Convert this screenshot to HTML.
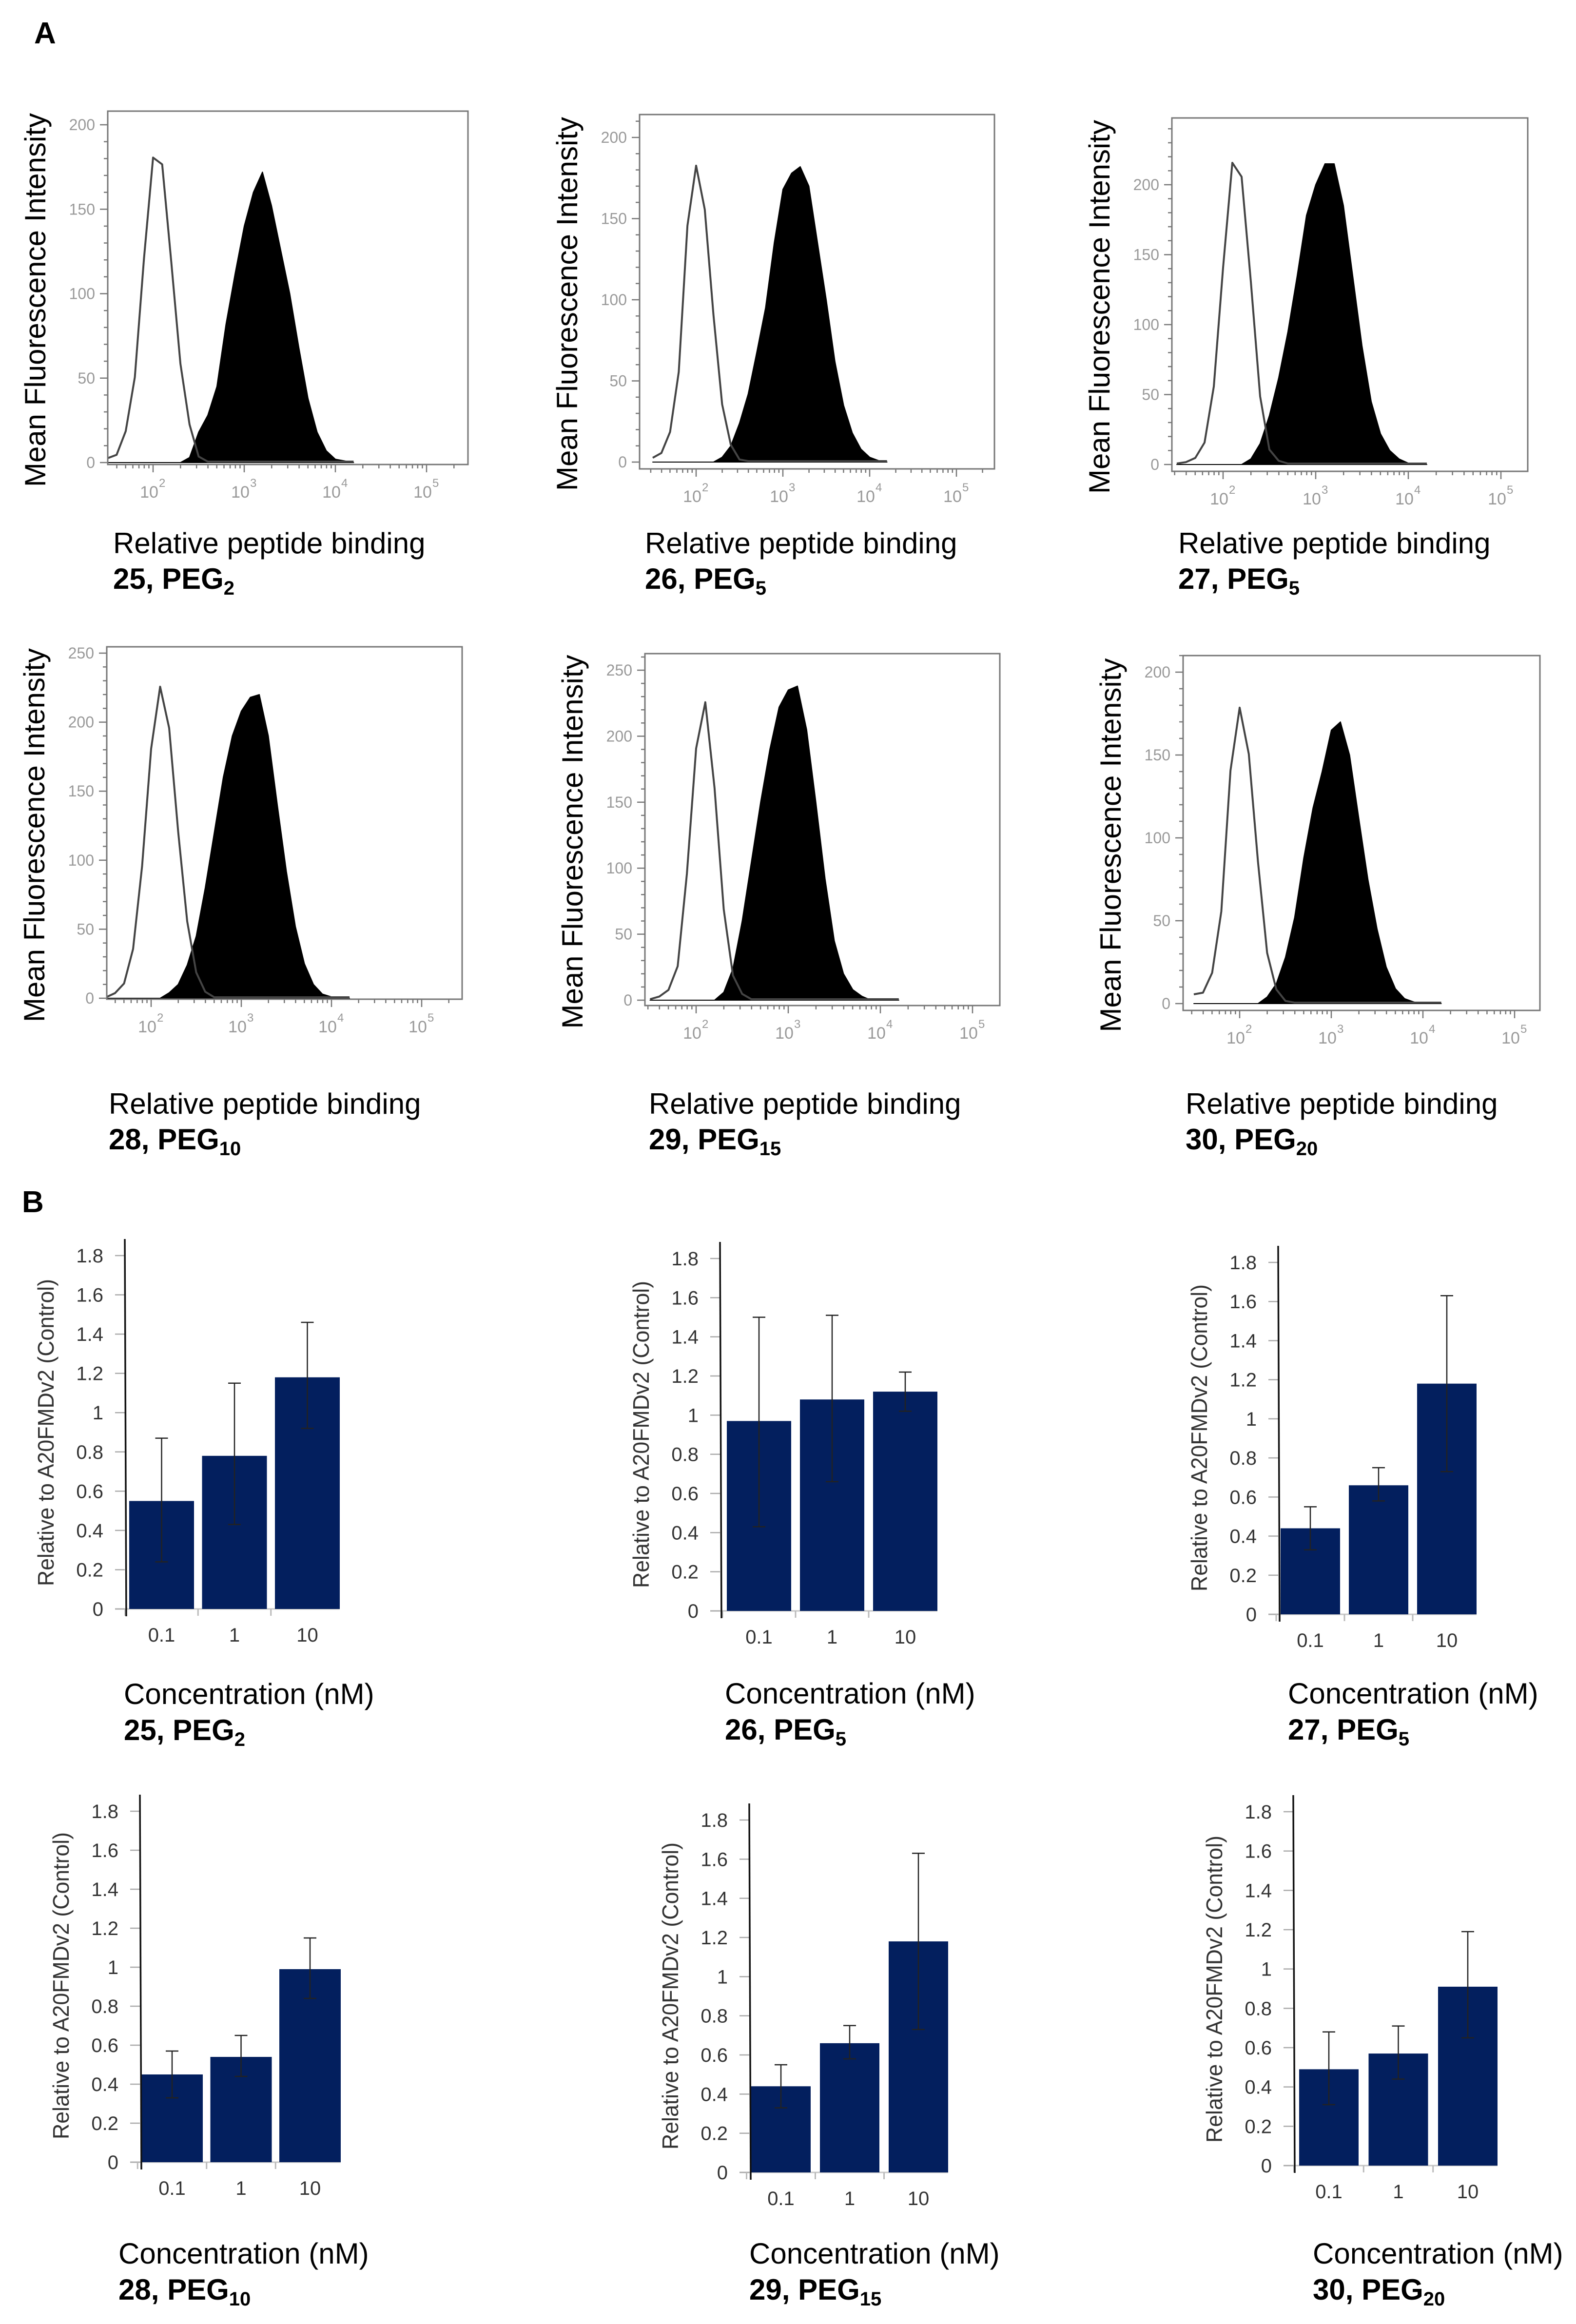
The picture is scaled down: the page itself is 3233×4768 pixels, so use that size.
<!DOCTYPE html>
<html><head><meta charset="utf-8">
<style>
html,body{margin:0;padding:0;background:#fff;}
svg{display:block;}
text{font-family:"Liberation Sans",Arial,sans-serif;}
</style></head>
<body>
<svg id="fig" xmlns="http://www.w3.org/2000/svg" width="3233" height="4768" viewBox="0 0 3233 4768">
<rect x="0" y="0" width="3233" height="4768" fill="#fff"/>
<text x="70" y="89" font-size="62" font-weight="bold">A</text>
<text x="45" y="2487" font-size="62" font-weight="bold">B</text>
</svg>
<script>
// ---------- data ----------
const logGrid = [1.5,1.6,1.7,1.8,1.9,2.0,2.1,2.2,2.3,2.4,2.5,2.6,2.7,2.8,2.9,3.0,3.1,3.2,3.3,3.4,3.5,3.6,3.7,3.8,3.9,4.0,4.1,4.2];
const open25   = [2,4,18,50,120,180,176,118,58,22,3,0,0,0,0,0,0,0,0,0,0,0,0,0,0,0,0,0];
const filled25 = [0,0,0,0,0,0,0,0,0,3,18,28,45,82,112,140,160,172,152,126,100,68,38,18,7,2,1,0];
const open26   = [2,5,18,55,145,182,155,90,35,10,1,0,0,0,0,0,0,0,0,0,0,0,0,0,0,0,0,0];
const filled26 = [0,0,0,0,0,0,0,0,3,10,24,42,68,95,135,168,178,182,170,135,100,62,35,18,8,3,1,0];
const open27   = [0,1,4,15,55,140,215,205,130,48,10,2,0,0,0,0,0,0,0,0,0,0,0,0,0,0,0,0];
const filled27 = [0,0,0,0,0,0,0,0,4,15,35,62,95,135,178,200,215,215,185,135,85,45,22,10,4,1,0,0];
const open28   = [0,3,10,35,95,180,225,195,120,55,18,4,0,0,0,0,0,0,0,0,0,0,0,0,0,0,0,0];
const filled28 = [0,0,0,0,0,0,0,4,10,24,45,80,120,160,190,208,218,220,190,140,92,52,25,10,3,1,0,0];
const open29   = [0,2,7,25,95,190,225,160,68,18,4,0,0,0,0,0,0,0,0,0,0,0,0,0,0,0,0,0];
const filled29 = [0,0,0,0,0,0,0,0,6,24,60,105,150,190,222,235,238,205,150,92,45,20,8,3,0,0,0,0];
const open30   = [5,6,18,55,140,178,150,85,30,8,1,0,0,0,0,0,0,0,0,0,0,0,0,0,0,0,0,0];
const filled30 = [0,0,0,0,0,0,0,0,4,12,28,52,88,118,140,165,170,150,112,75,45,22,9,3,1,0,0,0];
const histTicks200 = [0,50,100,150,200];
const histTicks250 = [0,50,100,150,200,250];
const xDecades = [2,3,4,5];

const barCats = ['0.1','1','10'];
const barYTicks = [0,0.2,0.4,0.6,0.8,1,1.2,1.4,1.6,1.8];
const barYTickLabels = ['0','0.2','0.4','0.6','0.8','1','1.2','1.4','1.6','1.8'];
const mean25 = [0.55,0.78,1.18]; const lo25 = [0.24,0.43,0.92]; const hi25 = [0.87,1.15,1.46];
const mean26 = [0.97,1.08,1.12]; const lo26 = [0.43,0.66,1.02]; const hi26 = [1.50,1.51,1.22];
const mean27 = [0.44,0.66,1.18]; const lo27 = [0.33,0.58,0.73]; const hi27 = [0.55,0.75,1.63];
const mean28 = [0.45,0.54,0.99]; const lo28 = [0.33,0.44,0.84]; const hi28 = [0.57,0.65,1.15];
const mean29 = [0.44,0.66,1.18]; const lo29 = [0.33,0.58,0.73]; const hi29 = [0.55,0.75,1.63];
const mean30 = [0.49,0.57,0.91]; const lo30 = [0.31,0.44,0.65]; const hi30 = [0.68,0.71,1.19];

// ---------- layout ----------
const NS = 'http://www.w3.org/2000/svg';
const svg = document.getElementById('fig');
function mk(tag, attrs, parent){
  const e = document.createElementNS(NS, tag);
  for (const k in attrs) e.setAttribute(k, attrs[k]);
  (parent||svg).appendChild(e);
  return e;
}

const hists = [
 {id:'25',sub:'2', box:[221,228,960,953], y0:949, refPx:256, refVal:200, x2:314, dec:187, open:open25, filled:filled25, ticks:histTicks200, tx:232, tb:1135},
 {id:'26',sub:'5', box:[1312,235,2040,962], y0:948, refPx:282, refVal:200, x2:1428, dec:178, open:open26, filled:filled26, ticks:histTicks200, tx:1323, tb:1135},
 {id:'27',sub:'5', box:[2404,242,3134,967], y0:953, refPx:379, refVal:200, x2:2509, dec:190, open:open27, filled:filled27, ticks:histTicks200, tx:2417, tb:1135},
 {id:'28',sub:'10', box:[219,1327,948,2050], y0:2048, refPx:1340, refVal:250, x2:310, dec:185, open:open28, filled:filled28, ticks:histTicks250, tx:223, tb:2285},
 {id:'29',sub:'15', box:[1323,1341,2051,2063], y0:2052, refPx:1375, refVal:250, x2:1428, dec:189, open:open29, filled:filled29, ticks:histTicks250, tx:1331, tb:2285},
 {id:'30',sub:'20', box:[2427,1345,3159,2073], y0:2059, refPx:1379, refVal:200, x2:2543, dec:188, open:open30, filled:filled30, ticks:histTicks200, tx:2432, tb:2285}
];

hists.forEach(h => {
  const g = mk('g', {});
  
  
  const [l,t,r,b] = h.box;
  const py = v => h.y0 - v * (h.y0 - h.refPx) / h.refVal;
  const px = lg => h.x2 + (lg - 2) * h.dec;
  const cid = 'clip' + h.id;
  const cp = mk('clipPath', {id: cid}, g);
  mk('rect', {x:l, y:t, width:r-l, height:b-t}, cp);

  let d = 'M' + px(logGrid[0]) + ',' + h.y0;
  h.filled.forEach((v,i) => { d += ' L' + px(logGrid[i]).toFixed(1) + ',' + py(v).toFixed(1); });
  d += ' L' + px(logGrid[logGrid.length-1]) + ',' + h.y0 + ' Z';
  const fp = mk('path', {d:d, fill:'#000', stroke:'#000', 'stroke-width':2, 'stroke-linejoin':'round', 'clip-path':'url(#'+cid+')'}, g);
  
  

  let d2 = '';
  h.open.forEach((v,i) => { d2 += (i ? ' L' : 'M') + px(logGrid[i]).toFixed(1) + ',' + (py(v)-2).toFixed(1); });
  const op = mk('path', {d:d2, fill:'none', stroke:'#444', 'stroke-width':4, 'stroke-linejoin':'round', 'clip-path':'url(#'+cid+')'}, g);
  
  

  const bx = mk('rect', {x:l, y:t, width:r-l, height:b-t, fill:'none', stroke:'#777', 'stroke-width':3}, g);
  
  

  const maxV = (h.y0 - t) * h.refVal / (h.y0 - h.refPx);
  for (let v = 0; v <= maxV; v += 10) {
    const major = (v % 50 === 0);
    mk('line', {x1:l - (major?16:8), x2:l, y1:py(v), y2:py(v), stroke:'#777', 'stroke-width':2.5}, g);
  }
  h.ticks.forEach(v => {
    const tl = mk('text', {x:l-26, y:py(v)+11, 'font-size':32, fill:'#999', 'text-anchor':'end'}, g);
    tl.textContent = String(v);
    
    
  });
  for (let dd = 1; dd <= 5; dd++) {
    for (let k = 1; k <= 9; k++) {
      const x = px(dd + Math.log10(k));
      if (x < l || x > r) continue;
      mk('line', {x1:x, x2:x, y1:b, y2:b + (k===1?16:8), stroke:'#777', 'stroke-width':2.5}, g);
    }
  }
  xDecades.forEach(dv => {
    const x = px(dv);
    const tl = mk('text', {x:x-8, y:b+68, 'font-size':34, fill:'#999', 'text-anchor':'middle'}, g);
    tl.textContent = '10';
    
    
    const sp = mk('text', {x:x+12, y:b+46, 'font-size':24, fill:'#999'}, g);
    sp.textContent = String(dv);
  });
  const cy = (t + b) / 2 + 25;
  const yl = mk('text', {x:0, y:0, 'font-size':60, fill:'#000', 'text-anchor':'middle', transform:'translate('+(l-128)+','+cy+') rotate(-90)'}, g);
  yl.textContent = 'Mean Fluorescence Intensity';
  
  
  const t1 = mk('text', {x:h.tx, y:h.tb, 'font-size':60, fill:'#000'}, g);
  t1.textContent = 'Relative peptide binding';
  
  
  const t2 = mk('text', {x:h.tx, y:h.tb+73, 'font-size':60, 'font-weight':'bold', fill:'#000'}, g);
  t2.textContent = h.id + ', PEG';
  const ts = mk('tspan', {'font-size':40, dy:12}, t2);
  ts.textContent = h.sub;
  
  
});

// ---------- bar charts ----------
const bars = [
 {id:'25',sub:'2', ax:256, y0:3301, y18:2576, start:265, step:149.5, bw:133, mean:mean25, lo:lo25, hi:hi25, tx:254, tb:3496},
 {id:'26',sub:'5', ax:1477, y0:3305, y18:2582, start:1491, step:150, bw:132, mean:mean26, lo:lo26, hi:hi26, tx:1487, tb:3495},
 {id:'27',sub:'5', ax:2622, y0:3312, y18:2590, start:2627, step:140, bw:122, mean:mean27, lo:lo27, hi:hi27, tx:2642, tb:3495},
 {id:'28',sub:'10', ax:287, y0:4436, y18:3716, start:290, step:141.5, bw:126, mean:mean28, lo:lo28, hi:hi28, tx:243, tb:4644},
 {id:'29',sub:'15', ax:1537, y0:4457, y18:3734, start:1541, step:141, bw:122, mean:mean29, lo:lo29, hi:hi29, tx:1537, tb:4644},
 {id:'30',sub:'20', ax:2653, y0:4443, y18:3717, start:2665, step:142.5, bw:122, mean:mean30, lo:lo30, hi:hi30, tx:2693, tb:4644}
];

bars.forEach(c => {
  const g = mk('g', {});
  
  
  const py = v => c.y0 - v * (c.y0 - c.y18) / 1.8;
  const bx = i => c.start + i * c.step;
  const gap = c.step - c.bw;
  const lastR = bx(barCats.length-1) + c.bw;

  mk('line', {x1:c.ax-20, x2:lastR, y1:c.y0, y2:c.y0, stroke:'#c8c8c8', 'stroke-width':3}, g);
  barYTicks.forEach((v,i) => {
    mk('line', {x1:c.ax-20, x2:c.ax, y1:py(v), y2:py(v), stroke:'#aaa', 'stroke-width':2.5}, g);
    const tl = mk('text', {x:c.ax-44, y:py(v)+14, 'font-size':40, fill:'#333', 'text-anchor':'end'}, g);
    tl.textContent = barYTickLabels[i];
    
    
  });
  barCats.forEach((cat,i) => {
    const r = mk('rect', {x:bx(i), y:py(c.mean[i]), width:c.bw, height:c.y0 - py(c.mean[i]), fill:'#031f5e'}, g);
    
    
    const cx = bx(i) + c.bw/2;
    const e = mk('path', {d:'M'+cx+','+py(c.hi[i])+' L'+cx+','+py(c.lo[i])+' M'+(cx-13)+','+py(c.hi[i])+' L'+(cx+13)+','+py(c.hi[i])+' M'+(cx-13)+','+py(c.lo[i])+' L'+(cx+13)+','+py(c.lo[i]), stroke:'#222', 'stroke-width':2.5, fill:'none'}, g);
    
    
    const tk = bx(i) - gap/2;
    mk('line', {x1:tk, x2:tk, y1:c.y0, y2:c.y0+14, stroke:'#bbb', 'stroke-width':3}, g);
    const tl = mk('text', {x:cx, y:c.y0+67, 'font-size':40, fill:'#333', 'text-anchor':'middle'}, g);
    tl.textContent = cat;
    
    
  });
  const al = mk('line', {x1:c.ax, x2:c.ax+3, y1:c.y18-34, y2:c.y0+15, stroke:'#111', 'stroke-width':3.5}, g);
  
  
  const yl = mk('text', {x:0, y:0, 'font-size':46, fill:'#333', 'text-anchor':'middle', textLength:630, lengthAdjust:'spacingAndGlyphs', transform:'translate('+(c.ax-146)+','+(c.y0-362)+') rotate(-90)'}, g);
  yl.textContent = 'Relative to A20FMDv2 (Control)';
  
  
  const t1 = mk('text', {x:c.tx, y:c.tb, 'font-size':60, fill:'#000'}, g);
  t1.textContent = 'Concentration (nM)';
  
  
  const t2 = mk('text', {x:c.tx, y:c.tb+74, 'font-size':60, 'font-weight':'bold', fill:'#000'}, g);
  t2.textContent = c.id + ', PEG';
  const ts = mk('tspan', {'font-size':40, dy:12}, t2);
  ts.textContent = c.sub;
  
  
});
</script>
</body></html>
